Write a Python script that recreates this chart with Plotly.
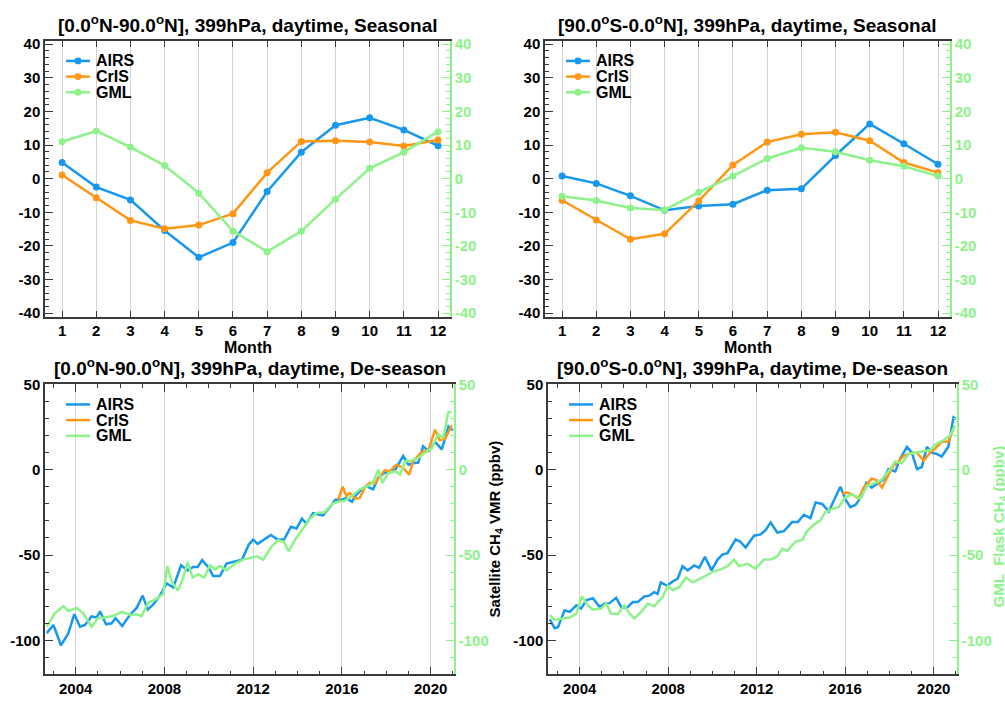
import plotly.graph_objects as go
from plotly.subplots import make_subplots

# ---------------- data ----------------
months = list(range(1, 13))
month_labels = [str(m) for m in months]
seas_ticks = [-40, -30, -20, -10, 0, 10, 20, 30, 40]
ts_ticks = [-100, -50, 0, 50]
year_ticks = [2004, 2008, 2012, 2016, 2020]

nh_airs_seas = [4.8, -2.5, -6.3, -15.4, -23.4, -19.0, -3.8, 7.9, 15.9, 18.1, 14.5, 9.8]
nh_cris_seas = [1.1, -5.7, -12.4, -14.9, -13.8, -10.4, 1.8, 11.1, 11.3, 10.9, 9.7, 11.5]
nh_gml_seas = [11.0, 14.2, 9.4, 3.9, -4.3, -15.6, -21.7, -15.6, -6.1, 3.1, 7.9, 14.0]

sh_airs_seas = [0.8, -1.4, -5.1, -9.4, -8.1, -7.6, -3.4, -3.0, 6.9, 16.3, 10.4, 4.3]
sh_cris_seas = [-6.4, -12.3, -18.0, -16.4, -6.6, 4.1, 10.9, 13.2, 13.8, 11.3, 4.8, 1.8]
sh_gml_seas = [-5.2, -6.5, -8.7, -9.3, -4.0, 0.8, 6.0, 9.2, 8.0, 5.5, 3.7, 0.8]

nh_airs_t = [2002.7, 2003.0, 2003.34, 2003.67, 2003.94, 2004.2, 2004.42, 2004.72, 2004.95, 2005.1,
             2005.37, 2005.62, 2005.8, 2006.1, 2006.45, 2006.75, 2007.02, 2007.25, 2007.5, 2007.8,
             2008.1, 2008.4, 2008.75, 2009.05, 2009.3, 2009.5, 2009.7, 2010.0, 2010.2, 2010.5,
             2010.8, 2011.2, 2011.5, 2011.8, 2012.0, 2012.2, 2012.5, 2012.8, 2013.1, 2013.4,
             2013.7, 2013.95, 2014.2, 2014.4, 2014.7, 2014.9, 2015.15, 2015.45, 2015.7, 2016.0,
             2016.2, 2016.45, 2016.66, 2016.9, 2017.1, 2017.4, 2017.64, 2017.86, 2018.1, 2018.4,
             2018.76, 2019.0, 2019.2, 2019.44, 2019.66, 2019.9, 2020.2, 2020.5, 2020.8, 2021.0]
nh_airs_v = [-95.8, -91, -103, -96, -84.7, -92, -91, -86, -86.6, -83,
             -90.6, -90, -87, -91.6, -85, -81, -73.8, -82, -79, -73.8,
             -66.7, -69, -56, -59, -57, -57, -53, -57.5, -62.3, -62.3,
             -55, -53.6, -52.7, -44, -41, -43.5, -41, -38.3, -41, -40.8,
             -33.5, -34.5, -28.7, -31.6, -25.5, -26.2, -26.8, -22, -17.6, -17.6,
             -16.7, -18.8, -14.4, -11.5, -9.6, -11.5, -4.8, -2.3, -1, 0,
             8, 2.9, 3.8, 4.2, 13.8, 11, 16.3, 11.9, 25.3, 23]

nh_cris_t = [2015.83, 2016.03, 2016.2, 2016.35, 2016.6, 2016.8, 2017.03, 2017.25, 2017.5, 2017.7,
             2017.93, 2018.15, 2018.45, 2018.76, 2019.03, 2019.2, 2019.6, 2019.9, 2020.2, 2020.4,
             2020.65, 2020.95]
nh_cris_v = [-17.6, -10, -15.3, -13.8, -16.9, -16.7, -10.5, -7.7, -8, -3.8,
             -0.4, -1, 2.9, 1, -2.9, 4.8, 10.5, 11.5, 23.4, 17.2,
             18.2, 25.9]

nh_gml_t = [2002.7, 2003.07, 2003.45, 2003.67, 2004.05, 2004.35, 2004.72, 2005.0, 2005.3, 2005.7,
            2006.07, 2006.5, 2006.75, 2006.97, 2007.27, 2007.65, 2007.95, 2008.13, 2008.33, 2008.6,
            2008.8, 2009.05, 2009.27, 2009.53, 2009.8, 2010.05, 2010.28, 2010.5, 2010.8, 2011.18,
            2011.55, 2011.85, 2012.15, 2012.45, 2012.83, 2013.13, 2013.4, 2013.6, 2013.88, 2014.2,
            2014.56, 2014.86, 2015.23, 2015.56, 2015.83, 2016.13, 2016.5, 2016.8, 2017.1, 2017.4,
            2017.64, 2017.82, 2018.1, 2018.4, 2018.62, 2018.84, 2019.14, 2019.44, 2019.74, 2020.04,
            2020.34, 2020.56, 2020.79, 2020.94]
nh_gml_v = [-92, -84, -80, -82.8, -81, -84.3, -92, -87, -86.6, -85.8,
            -83.3, -85.2, -84.7, -85.8, -78, -75.7, -72.8, -56.5, -65.5, -70.9,
            -65, -54.2, -63.2, -61.3, -63.2, -56, -58.4, -56.5, -59, -55,
            -52.7, -51.7, -50.8, -52.7, -45, -41.2, -42.5, -47.9, -41.2, -35.4,
            -28.7, -25.3, -24.9, -20, -18.8, -18.2, -14.9, -11.5, -10, -7.7,
            0, -7.7, -1.9, -1, -2.9, 4.8, 5.4, 6.7, 10, 12.5,
            21, 18.2, 33.5, 34]

sh_airs_t = [2002.65, 2002.87, 2003.02, 2003.32, 2003.55, 2003.85, 2004.07, 2004.3, 2004.6, 2004.9,
             2005.12, 2005.35, 2005.65, 2005.9, 2006.17, 2006.4, 2006.62, 2006.92, 2007.15, 2007.37,
             2007.52, 2007.67, 2007.95, 2008.2, 2008.43, 2008.65, 2008.88, 2009.18, 2009.4, 2009.66,
             2009.96, 2010.23, 2010.45, 2010.68, 2011.05, 2011.25, 2011.5, 2011.88, 2012.18, 2012.4,
             2012.63, 2012.93, 2013.23, 2013.6, 2013.86, 2014.13, 2014.43, 2014.66, 2014.96, 2015.26,
             2015.48, 2015.78, 2016.0, 2016.23, 2016.46, 2016.76, 2016.95, 2017.2, 2017.5, 2017.73,
             2017.96, 2018.26, 2018.49, 2018.79, 2019.01, 2019.24, 2019.46, 2019.69, 2019.91, 2020.14,
             2020.36, 2020.66, 2020.89, 2021.0]
sh_airs_v = [-87.7, -92.9, -92.3, -82.4, -83.3, -79.5, -81.4, -76.6, -75.3, -80.5,
             -78.5, -78.2, -75.1, -80.8, -80.5, -77.6, -77.6, -74.3, -73.8, -71.8,
             -72.8, -66, -68, -65.5, -63.8, -56.5, -59, -56.1, -57.5, -51.1,
             -59, -52.7, -49.8, -48.9, -40.8, -42.1, -45.6, -38.7, -37.9, -35.4,
             -31, -36.8, -36, -30.7, -30.7, -26.4, -28.4, -19.2, -20.1, -24.5,
             -18.2, -10, -17.2, -22, -20.7, -15.3, -7.7, -10.5, -7.7, -5.7,
             0.4, -1, 6.7, 13.4, 10, 0.4, 1.5, 13.4, 10, 9.2,
             7.7, 13.4, 30.7, 29.7]

sh_cris_t = [2015.86, 2016.08, 2016.3, 2016.6, 2016.83, 2017.2, 2017.43, 2017.66, 2017.88, 2018.18,
             2018.41, 2018.63, 2018.94, 2019.24, 2019.54, 2019.84, 2020.14, 2020.36, 2020.66, 2020.92]
sh_cris_v = [-13.8, -13.4, -14.4, -16.9, -10.5, -5.2, -6.3, -10.5, -4.8, 2.3,
             4.8, 8, 9.6, 10, 5.4, 10, 13.4, 16.3, 16.3, 24.9]

sh_gml_t = [2002.65, 2002.87, 2003.25, 2003.55, 2003.85, 2004.1, 2004.37, 2004.6, 2004.97, 2005.2,
            2005.42, 2005.72, 2006.02, 2006.25, 2006.47, 2006.78, 2007.08, 2007.37, 2007.75, 2007.98,
            2008.2, 2008.5, 2008.8, 2009.1, 2009.4, 2009.78, 2010.08, 2010.38, 2010.68, 2010.98,
            2011.2, 2011.58, 2011.95, 2012.33, 2012.63, 2012.93, 2013.16, 2013.38, 2013.76, 2014.06,
            2014.28, 2014.58, 2014.88, 2015.1, 2015.4, 2015.7, 2016.0, 2016.3, 2016.67, 2016.98,
            2017.36, 2017.66, 2017.96, 2018.26, 2018.56, 2018.86, 2019.16, 2019.54, 2019.84, 2020.14,
            2020.44, 2020.74, 2020.96]
sh_gml_v = [-85.2, -88, -87.2, -86.6, -84.3, -74.3, -79.5, -82, -81.4, -78.5,
            -84.3, -84.7, -79.5, -84.3, -87.2, -83.3, -78.5, -80, -74.7, -68,
            -70.5, -69, -63.2, -66, -64.2, -61.3, -59.4, -58.4, -56.5, -52.7,
            -56.5, -55.2, -58, -52.7, -52.7, -50.8, -46.4, -47.5, -42.1, -41.2,
            -36, -32.2, -29.7, -24.9, -23, -22, -16.3, -14.4, -16.9, -9.6,
            -7.7, -5.7, -1, 4.8, 3.8, 9.2, 10, 11, 11.5, 15.3,
            17.2, 20.1, 25.9]

titles = [
    "[0.0<sup>o</sup>N-90.0<sup>o</sup>N], 399hPa, daytime, Seasonal",
    "[90.0<sup>o</sup>S-0.0<sup>o</sup>N], 399hPa, daytime, Seasonal",
    "[0.0<sup>o</sup>N-90.0<sup>o</sup>N], 399hPa, daytime, De-season",
    "[90.0<sup>o</sup>S-0.0<sup>o</sup>N], 399hPa, daytime, De-season",
]
series_names = ["AIRS", "CrIS", "GML"]

# ---------------- style ----------------
BLUE = "#1798ee"
ORANGE = "#ff9614"
GREEN = "#8ef28a"
AXC = "#3a3a3a"
GRID = "#d4d4d4"
FONT = "Liberation Sans"
W, H = 1005, 702
colors = [BLUE, ORANGE, GREEN]

def bold(vals):
    return ["<b>" + str(v) + "</b>" for v in vals]

fig = make_subplots(rows=2, cols=2, specs=[[{"secondary_y": True}] * 2] * 2)

def px_x(a, b):
    return [a / W, b / W]

def px_y(top, bot):
    return [1 - bot / H, 1 - top / H]

# panel boxes in pixels: (left, right, top, bottom)
boxes = [(45, 450, 32.5, 313.8), (545, 950, 32.5, 313.8),
         (45, 454, 383, 679), (548, 957, 383, 679)]

seas = [(nh_airs_seas, nh_cris_seas, nh_gml_seas), (sh_airs_seas, sh_cris_seas, sh_gml_seas)]
ts = [((nh_airs_t, nh_airs_v), (nh_cris_t, nh_cris_v), (nh_gml_t, nh_gml_v)),
      ((sh_airs_t, sh_airs_v), (sh_cris_t, sh_cris_v), (sh_gml_t, sh_gml_v))]

for i in range(2):
    for k, (vals, nm, col) in enumerate(zip(seas[i], series_names, colors)):
        fig.add_trace(go.Scatter(x=months, y=vals, name=nm, mode="lines+markers",
                                 line=dict(color=col, width=2.5),
                                 marker=dict(color=col, size=7, symbol="circle"),
                                 showlegend=False),
                      row=1, col=i + 1, secondary_y=(k == 2))
for i in range(2):
    for k, ((tt, vv), nm, col) in enumerate(zip(ts[i], series_names, colors)):
        fig.add_trace(go.Scatter(x=tt, y=vv, name=nm, mode="lines",
                                 line=dict(color=col, width=2.5), showlegend=False),
                      row=2, col=i + 1, secondary_y=(k == 2))

tickfont = dict(family=FONT, size=15, color="black")
gtickfont = dict(family=FONT, size=15, color=GREEN)

layout = dict(width=W, height=H, margin=dict(l=0, r=0, t=0, b=0),
              paper_bgcolor="white", plot_bgcolor="white",
              font=dict(family=FONT, size=15, color="black"))

xnames = ["xaxis", "xaxis2", "xaxis3", "xaxis4"]
ynames = [("yaxis", "yaxis2"), ("yaxis3", "yaxis4"), ("yaxis5", "yaxis6"), ("yaxis7", "yaxis8")]
for p in range(4):
    l, r, t, b = boxes[p]
    if p < 2:
        xa = dict(domain=px_x(l, r), range=[0.5, 12.35], tickvals=months, ticktext=bold(month_labels),
                  showgrid=True, gridcolor=GRID, gridwidth=1, showline=True, linecolor=AXC,
                  linewidth=1.5, mirror="ticks", ticks="inside", ticklen=6, tickcolor=AXC,
                  tickfont=tickfont, zeroline=False)
        yr, ytv, mdt = [-41, 41], seas_ticks, 2
    else:
        xr = [2002.62, 2021.05] if p == 2 else [2002.57, 2021.05]
        xa = dict(domain=px_x(l, r), range=xr, tickvals=year_ticks, ticktext=bold(year_ticks),
                  showgrid=True, gridcolor=GRID, gridwidth=1, showline=True, linecolor=AXC,
                  linewidth=1.5, mirror="ticks", ticks="inside", ticklen=8, tickcolor=AXC,
                  tickfont=tickfont, zeroline=False,
                  minor=dict(dtick=1, tick0=2004, ticklen=4, tickcolor=AXC, ticks="inside", showgrid=False))
        yr, ytv, mdt = [-120, 50], ts_ticks, 10
    ya = dict(domain=px_y(t, b), range=yr, tickvals=ytv, ticktext=bold(ytv),
              showgrid=False, showline=True, linecolor=AXC, linewidth=1.5, ticks="inside",
              ticklen=8, tickcolor=AXC, tickfont=tickfont, zeroline=False,
              minor=dict(dtick=mdt, tick0=0, ticklen=4, tickcolor=AXC, ticks="inside", showgrid=False))
    yb = dict(range=yr, tickvals=ytv, ticktext=bold(ytv),
              showgrid=False, showline=True, linecolor=GREEN, linewidth=1.5, ticks="inside",
              ticklen=8, tickcolor=GREEN, tickfont=gtickfont, zeroline=False,
              minor=dict(dtick=mdt, tick0=0, ticklen=4, tickcolor=GREEN, ticks="inside", showgrid=False))
    layout[xnames[p]] = xa
    layout[ynames[p][0]] = ya
    layout[ynames[p][1]] = yb

fig.update_layout(**layout)

annos = []
shapes = []
title_y = [15, 15, 365, 365]
for p in range(4):
    l, r, t, b = boxes[p]
    annos.append(dict(text="<b>" + titles[p] + "</b>", x=(l + r) / 2 / W, y=1 - title_y[p] / H,
                      xref="paper", yref="paper", showarrow=False, xanchor="center", yanchor="middle",
                      font=dict(family=FONT, size=19, color="black")))
    if p < 2:
        annos.append(dict(text="<b>Month</b>", x=(l + r) / 2 / W, y=1 - 345 / H,
                          xref="paper", yref="paper", showarrow=False, xanchor="center",
                          yanchor="middle", font=dict(family=FONT, size=16, color="black")))
    # legend block (drawn as key lines + labels)
    lx0, lx1 = l + 21, l + 45
    for k, (nm, col) in enumerate(zip(series_names, colors)):
        yy = 1 - (t + 20.5 + 16 * k) / H
        shapes.append(dict(type="line", xref="paper", yref="paper", x0=lx0 / W, x1=lx1 / W,
                           y0=yy, y1=yy, line=dict(color=col, width=2.5)))
        if p < 2:
            cx = (lx0 + lx1) / 2
            shapes.append(dict(type="circle", xref="paper", yref="paper",
                               x0=(cx - 3.5) / W, x1=(cx + 3.5) / W,
                               y0=yy - 3.5 / H, y1=yy + 3.5 / H,
                               fillcolor=col, line=dict(color=col, width=0)))
        annos.append(dict(text="<b>" + nm + "</b>", x=(lx1 + 4) / W, y=yy, xref="paper", yref="paper",
                          showarrow=False, xanchor="left", yanchor="middle",
                          font=dict(family=FONT, size=16, color="black")))

annos.append(dict(text="<b>Satellite CH<sub>4</sub> VMR (ppbv)</b>", x=495 / W, y=1 - 531 / H,
                  xref="paper", yref="paper", showarrow=False, textangle=-90,
                  xanchor="center", yanchor="middle", font=dict(family=FONT, size=15, color="black")))
annos.append(dict(text="<b>GML_Flask CH<sub>4</sub> (ppbv)</b>", x=999 / W, y=1 - 528 / H,
                  xref="paper", yref="paper", showarrow=False, textangle=-90,
                  xanchor="center", yanchor="middle", font=dict(family=FONT, size=15, color=GREEN)))
fig.update_layout(annotations=annos, shapes=shapes)

fig.write_html("out.html")
